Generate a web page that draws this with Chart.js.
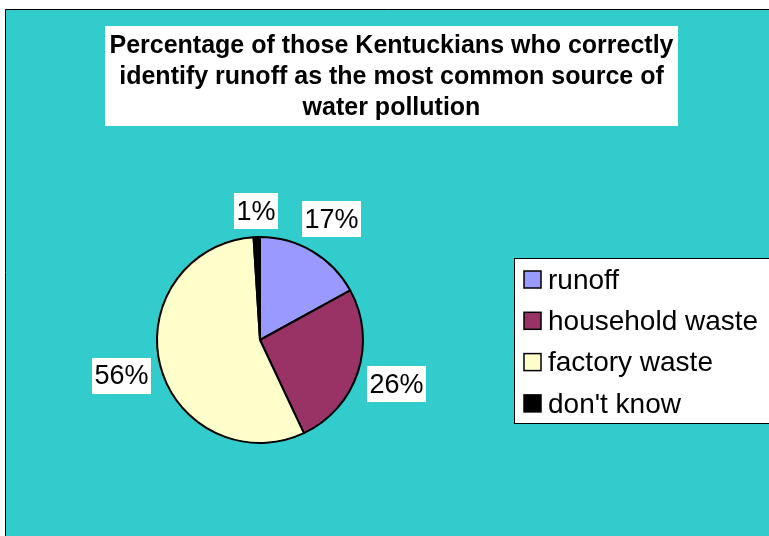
<!DOCTYPE html>
<html>
<head>
<meta charset="utf-8">
<script src="https://cdn.jsdelivr.net/npm/chart.js@4/dist/chart.umd.min.js"></script>
<style>
  html, body { margin: 0; padding: 0; background: #ffffff; }
  canvas { display: block; }
</style>
</head>
<body>
<canvas id="c" width="769" height="536"></canvas>
<script>
// Survey answers: most common source of water pollution
const categories = ['runoff', 'household waste', 'factory waste', "don't know"];
const shares = [17, 26, 56, 1];
const sliceColors = ['#9999FF', '#993366', '#FFFFCC', '#000000'];
const titleLines = [
  'Percentage of those Kentuckians who correctly',
  'identify runoff as the most common source of',
  'water pollution'
];

const FONT = '"Liberation Sans", Arial, sans-serif';
const TEAL = '#33CCCC';

const frame = {
  id: 'frame',
  beforeDraw(chart) {
    const ctx = chart.ctx;
    const W = chart.width, H = chart.height;
    ctx.save();
    ctx.fillStyle = '#ffffff';
    ctx.fillRect(0, 0, W, H);
    ctx.fillStyle = TEAL;
    ctx.fillRect(6, 9, W - 6, H - 9);
    ctx.strokeStyle = '#000000';
    ctx.lineWidth = 1;
    ctx.beginPath();
    ctx.moveTo(5.5, H);
    ctx.lineTo(5.5, 9.5);
    ctx.lineTo(W, 9.5);
    ctx.stroke();

    // title panel
    ctx.fillStyle = '#ffffff';
    ctx.fillRect(105, 26, 573, 100);
    ctx.fillStyle = '#000000';
    ctx.font = 'bold 25px ' + FONT;
    ctx.textAlign = 'center';
    ctx.textBaseline = 'middle';
    const tx = 105 + 573 / 2;
    titleLines.forEach((line, i) => ctx.fillText(line, tx, 46 + i * 31));

    // legend panel
    ctx.fillStyle = '#ffffff';
    ctx.fillRect(514, 258, W - 514 + 2, 165);
    ctx.strokeStyle = '#000000';
    ctx.lineWidth = 1;
    ctx.strokeRect(514.5, 258.5, W - 514 + 2, 165);
    ctx.font = '28px ' + FONT;
    ctx.textAlign = 'left';
    ctx.textBaseline = 'middle';
    chart.data.labels.forEach((lab, i) => {
      const cy = 280 + i * 41.3;
      ctx.fillStyle = chart.data.datasets[0].backgroundColor[i];
      ctx.fillRect(524, cy - 9, 17, 17);
      ctx.strokeStyle = '#000000';
      ctx.lineWidth = 1.5;
      ctx.strokeRect(524, cy - 9, 17, 17);
      ctx.fillStyle = '#000000';
      ctx.fillText(lab, 548, cy + 1);
    });
    ctx.restore();
  },
  afterDatasetsDraw(chart) {
    const ctx = chart.ctx;
    const meta = chart.getDatasetMeta(0);
    const values = chart.data.datasets[0].data;
    const total = values.reduce((a, b) => a + b, 0);
    ctx.save();
    ctx.font = '27px ' + FONT;
    ctx.textAlign = 'center';
    ctx.textBaseline = 'middle';
    meta.data.forEach((arc, i) => {
      const p = arc.getProps(['x', 'y', 'startAngle', 'endAngle', 'outerRadius'], true);
      const mid = (p.startAngle + p.endAngle) / 2;
      const dx = Math.cos(mid), dy = Math.sin(mid);
      const text = Math.round(values[i] / total * 100) + '%';
      const w = ctx.measureText(text).width + 5;
      const h = 36;
      const ext = Math.abs(dx) * w / 2 + Math.abs(dy) * h / 2;
      const dist = p.outerRadius + 7 + ext;
      const cx = p.x + dx * dist, cy = p.y + dy * dist;
      ctx.fillStyle = '#ffffff';
      ctx.fillRect(Math.round(cx - w / 2), Math.round(cy - h / 2), Math.round(w), h);
      ctx.fillStyle = '#000000';
      ctx.fillText(text, cx, cy + 1);
    });
    ctx.restore();
  }
};

new Chart(document.getElementById('c'), {
  type: 'pie',
  data: {
    labels: categories,
    datasets: [{
      data: shares,
      backgroundColor: sliceColors,
      borderColor: '#000000',
      borderWidth: 2
    }]
  },
  options: {
    responsive: false,
    devicePixelRatio: 1,
    animation: false,
    layout: { padding: { left: 156, right: 405, top: 236, bottom: 92 } },
    plugins: {
      legend: { display: false },
      title: { display: false },
      tooltip: { enabled: false }
    }
  },
  plugins: [frame]
});
</script>
</body>
</html>
